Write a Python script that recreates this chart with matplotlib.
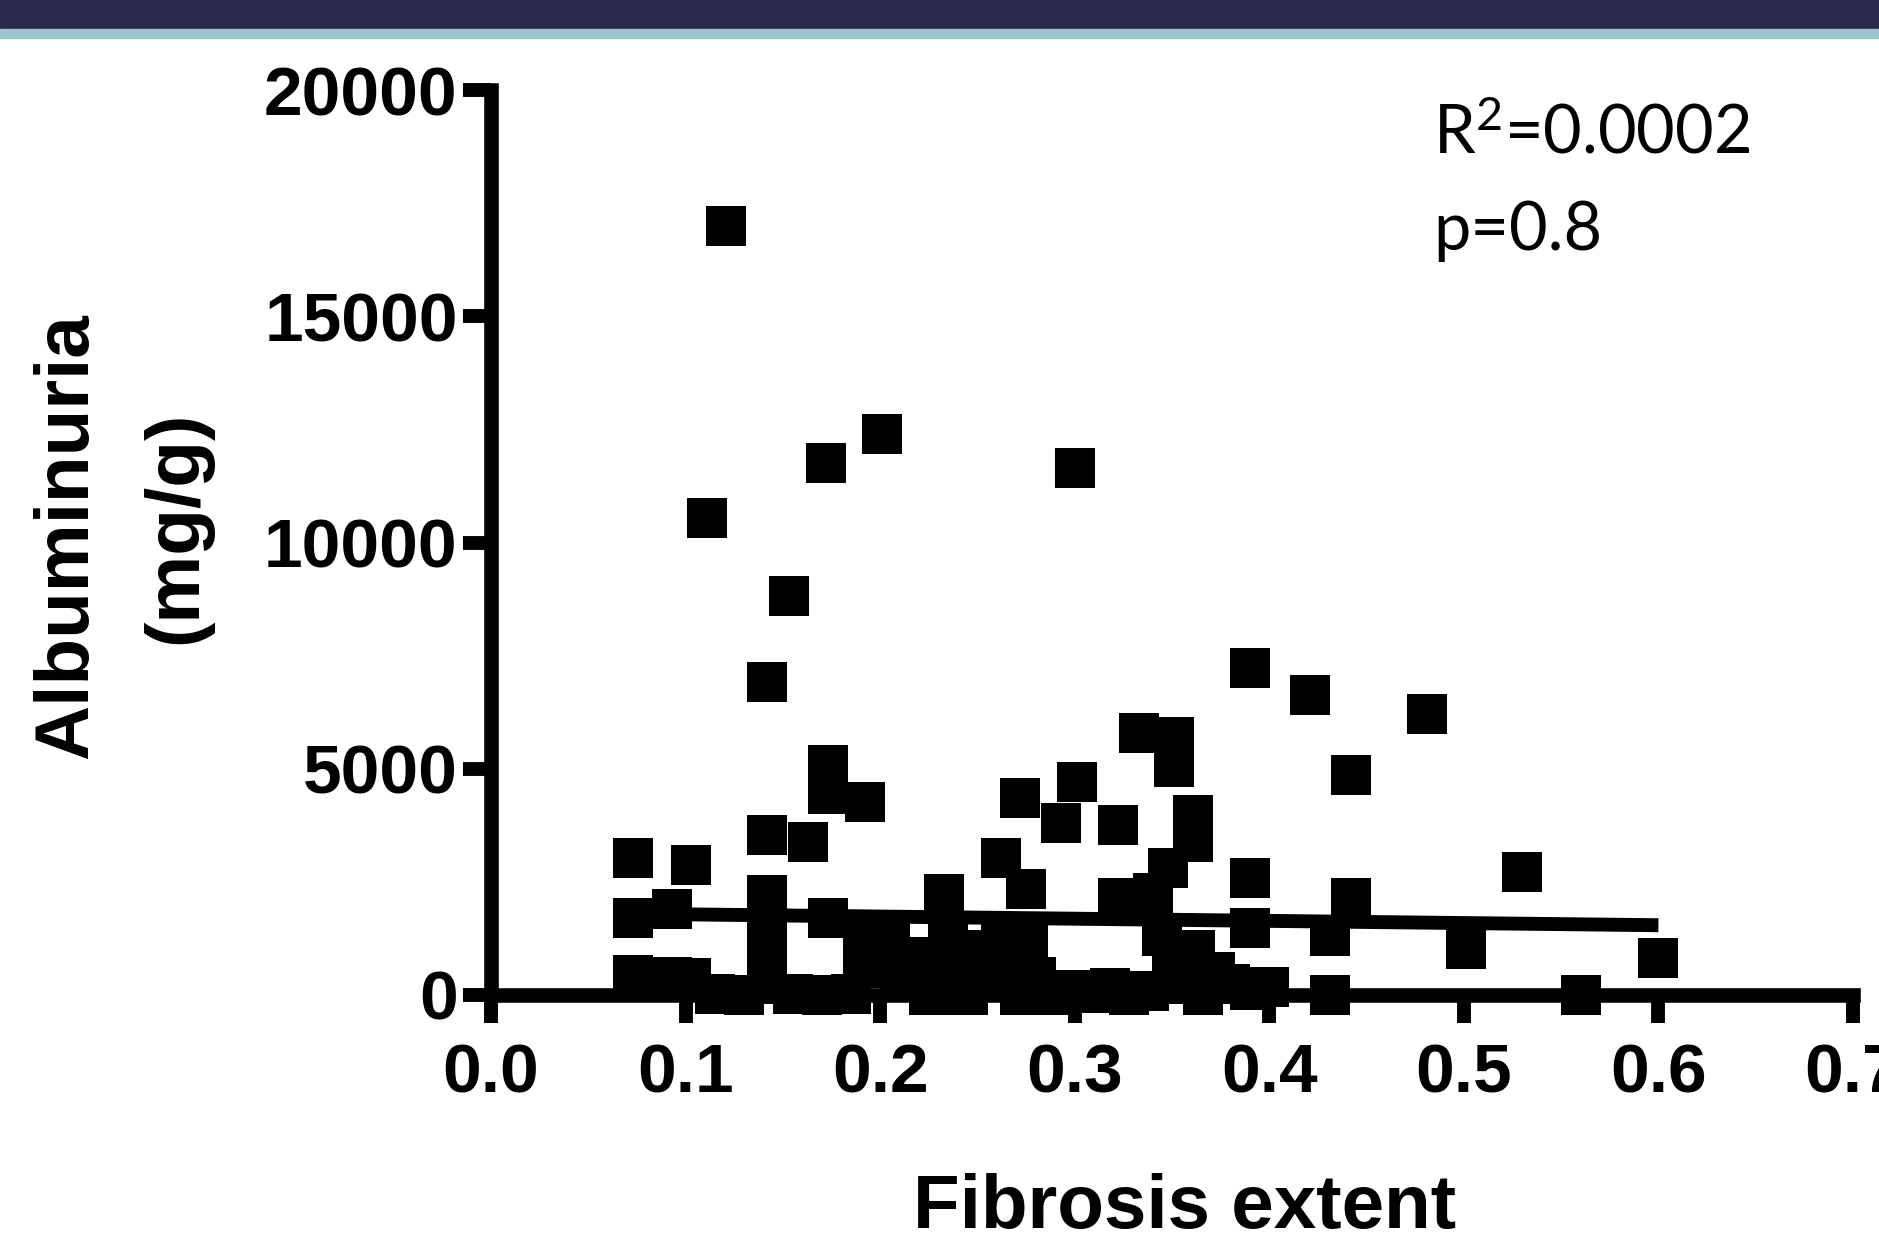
import numpy as np
import matplotlib.pyplot as plt
from matplotlib.patches import Rectangle

plt.rcParams['mathtext.fontset'] = 'custom'
plt.rcParams['mathtext.rm'] = 'Lato'
plt.rcParams['mathtext.it'] = 'Lato'

# Fibrosis extent vs albuminuria
fibrosis = [
    0.121, 0.111, 0.201, 0.172, 0.300, 0.153, 0.142, 0.390, 0.421, 0.481,
    0.442, 0.333, 0.351, 0.351, 0.173, 0.173, 0.192, 0.272, 0.301, 0.293,
    0.322, 0.361, 0.361, 0.348, 0.142, 0.163, 0.073, 0.103, 0.262, 0.530,
    0.390, 0.442, 0.390, 0.431, 0.501, 0.600, 0.560, 0.431, 0.390, 0.400,
    0.073, 0.093, 0.173, 0.142, 0.142, 0.142, 0.233, 0.275, 0.322, 0.340,
    0.073, 0.093, 0.103,
    0.115, 0.130, 0.142, 0.155, 0.170, 0.185, 0.191, 0.191, 0.205, 0.210,
    0.220, 0.225, 0.235, 0.240, 0.245, 0.252, 0.258, 0.262, 0.266, 0.272,
    0.276, 0.280, 0.288, 0.298, 0.308, 0.318, 0.328, 0.338, 0.345, 0.350,
    0.355, 0.362, 0.366, 0.372, 0.380,
]
albuminuria = [
    17000, 10550, 12400, 11750, 11650, 8820, 6920, 7230, 6630, 6210,
    4860, 5780, 5700, 5030, 5080, 4440, 4270, 4350, 4700, 3800,
    3760, 3980, 3380, 2800, 3540, 3380, 3030, 2870, 3030, 2720,
    2590, 2140, 1480, 1300, 1020, 820, 0, 0, 120, 180,
    1700, 1900, 1700, 2210, 1550, 880, 2230, 2350, 2150, 2250,
    440, 400, 380,
    30, 0, 250, 20, 0, 30, 600, 1300, 1150, 450,
    850, 0, 1350, 550, 0, 1000, 300, 1300, 700, 0,
    1100, 400, 0, 100, 50, 150, 0, 80, 1300, 700,
    250, 1000, 0, 500, 250,
]

# linear fit shown on the chart
fit_intercept = 1830
fit_slope = -480

x_ticks = [0.0, 0.1, 0.2, 0.3, 0.4, 0.5, 0.6, 0.7]
y_ticks = [0, 5000, 10000, 15000, 20000]

W, H = 1879, 1245
fig = plt.figure(figsize=(W / 100, H / 100), dpi=100)

# header band
fig.add_artist(Rectangle((0, 1 - 29 / H), 1, 29 / H, transform=fig.transFigure,
                         color='#2b2a4e', zorder=0))
fig.add_artist(Rectangle((0, 1 - 38 / H), 1, 9 / H, transform=fig.transFigure,
                         color='#9cc4cb', zorder=0))

ax = fig.add_axes([491 / W, (H - 995) / H, 1362 / W, 905 / H])

ax.plot(fibrosis, albuminuria, ls='none', marker='s', ms=28.8, mew=0,
        color='black', clip_on=False, zorder=3)

xs = np.array([min(fibrosis), max(fibrosis)])
ax.plot(xs, fit_intercept + fit_slope * xs, color='black', lw=10,
        solid_capstyle='butt', zorder=2)

ax.set_xlim(0, 0.7)
ax.set_ylim(0, 20000)
ax.set_xticks(x_ticks)
ax.set_yticks(y_ticks)
ax.set_xticklabels([f'{t:.1f}' for t in x_ticks])
ax.set_yticklabels([str(t) for t in y_ticks])

for s in ['top', 'right']:
    ax.spines[s].set_visible(False)
for s in ['left', 'bottom']:
    ax.spines[s].set_linewidth(10.5)

ax.tick_params(width=10, length=20, direction='out')
ax.tick_params(axis='x', pad=14)
ax.tick_params(axis='y', pad=4)
for lab in ax.get_xticklabels() + ax.get_yticklabels():
    lab.set_fontfamily('Liberation Sans')
    lab.set_fontweight('bold')
    lab.set_fontsize(50)

# axis titles
fig.text(68 / W, 1 - 536 / H, 'Albuminuria', rotation=90, ha='center', va='center',
         fontfamily='Liberation Sans', fontweight='bold', fontsize=55)
fig.text(177 / W, 1 - 527 / H, '(mg/g)', rotation=90, ha='center', va='center',
         fontfamily='Liberation Sans', fontweight='bold', fontsize=55)
fig.text(1185 / W, 0.001, 'Fibrosis extent', ha='center', va='bottom',
         fontfamily='Liberation Sans', fontweight='bold', fontsize=55)

# stats
fig.text(1433 / W, 1 - 153 / H, 'R$^{2}$=0.0002', ha='left', va='baseline',
         fontfamily='Lato', fontsize=48)
fig.text(1433 / W, 1 - 250 / H, 'p=0.8', ha='left', va='baseline',
         fontfamily='Lato', fontsize=48)

fig.savefig('out.png', dpi=100)
